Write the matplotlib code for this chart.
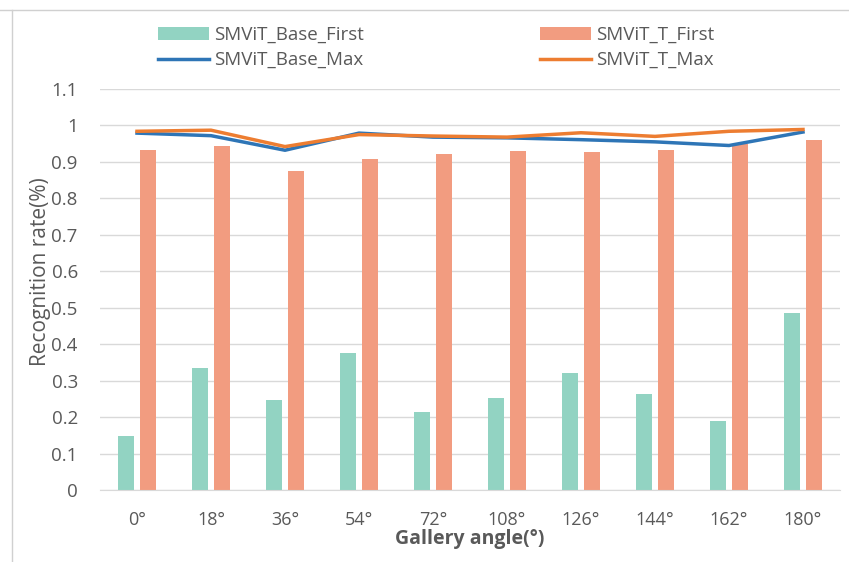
import numpy as np
import matplotlib
matplotlib.use('Agg')
import matplotlib.pyplot as plt
from matplotlib.lines import Line2D

plt.rcParams['font.family'] = ['Open Sans', 'DejaVu Sans']

# data
angles = ['0°', '18°', '36°', '54°', '72°', '108°', '126°', '144°', '162°', '180°']
base_first = [0.147, 0.336, 0.247, 0.375, 0.214, 0.252, 0.320, 0.263, 0.188, 0.485]
t_first = [0.934, 0.943, 0.875, 0.908, 0.923, 0.929, 0.927, 0.934, 0.948, 0.959]
base_max = [0.979, 0.972, 0.932, 0.979, 0.968, 0.966, 0.961, 0.955, 0.945, 0.982]
t_max = [0.984, 0.987, 0.942, 0.975, 0.971, 0.968, 0.980, 0.970, 0.984, 0.989]

grey = '#595959'
fig = plt.figure(figsize=(8.49, 5.62), dpi=100)
ax = fig.add_axes([100/849, 1-490/562, 740/849, 401/562])

x = np.arange(len(angles))
w = 0.22
b1 = ax.bar(x - 0.145, base_first, w, color='#92D3C2', zorder=2)
b2 = ax.bar(x + 0.145, t_first, w, color='#F29C80', zorder=2)
l1, = ax.plot(x, base_max, color='#2E75B6', lw=2.5, zorder=3)
l2, = ax.plot(x, t_max, color='#ED7D31', lw=2.5, zorder=4)

ax.set_xlim(-0.5, len(angles) - 0.5)
ax.set_ylim(0, 1.1)
ax.set_yticks(np.arange(0, 1.11, 0.1))
ax.set_yticklabels(['0', '0.1', '0.2', '0.3', '0.4', '0.5', '0.6', '0.7', '0.8', '0.9', '1', '1.1'])
ax.set_xticks(x)
ax.set_xticklabels(angles)
ax.tick_params(length=0, labelsize=13, labelcolor=grey)
ax.tick_params(axis='x', pad=15)
ax.tick_params(axis='y', labelsize=13.5, pad=16)
ax.grid(axis='y', color='#D9D9D9', lw=1, zorder=0)
for s in ['left', 'right', 'top']:
    ax.spines[s].set_visible(False)
ax.spines['bottom'].set_color('#D9D9D9')

ax.set_ylabel('Recognition rate(%)', fontsize=15, color=grey)
ax.yaxis.set_label_coords(-0.066, 0.545)
ax.set_xlabel('Gallery angle(°)', fontsize=14, color=grey, fontweight='bold', labelpad=0)

# legend: two columns, filled row-wise like the original
leg_kw = dict(loc='center left', frameon=False, fontsize=13.5, labelcolor=grey,
              handlelength=2.75, handletextpad=0.27, labelspacing=0.38,
              borderpad=0.4, borderaxespad=0)
fig.legend([b1, l1], ['SMViT_Base_First', 'SMViT_Base_Max'],
           bbox_to_anchor=(150/849, 1-47.5/562), **leg_kw)
fig.legend([b2, l2], ['SMViT_T_First', 'SMViT_T_Max'],
           bbox_to_anchor=(532/849, 1-47.5/562), **leg_kw)

# frame lines of the original screenshot
fig.add_artist(Line2D([0, 1], [1-10/562, 1-10/562], color='#D0D0D0', lw=1))
fig.add_artist(Line2D([12/849, 12/849], [0, 1-10/562], color='#D0D0D0', lw=1))

fig.savefig('out.png', dpi=100)
